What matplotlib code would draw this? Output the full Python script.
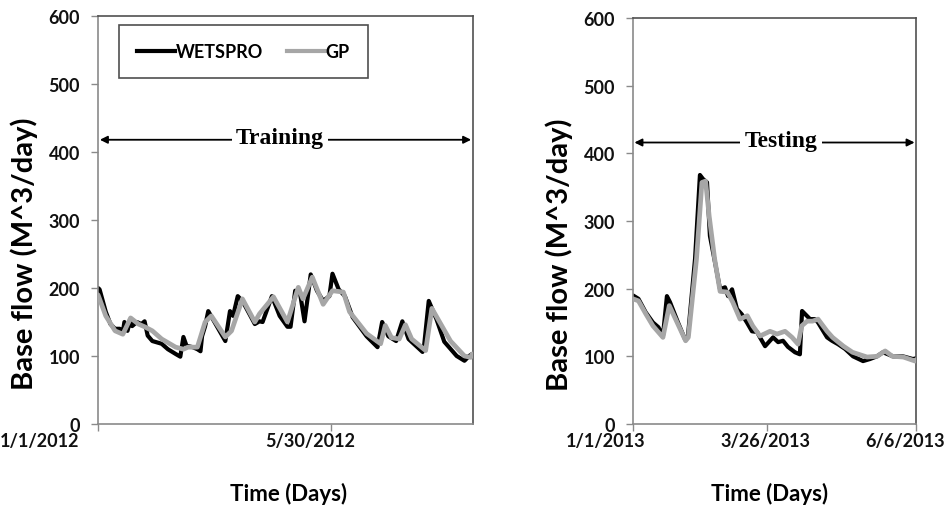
import matplotlib
matplotlib.use("Agg")
import matplotlib.pyplot as plt
import matplotlib.transforms as mtransforms
from matplotlib.lines import Line2D

# ---------------- data ----------------
# Training period (days since 1/1/2012)
train_days_wetspro = [0, 1, 5, 8, 11, 14, 16, 17, 19, 21, 22, 25, 28, 30, 32, 35, 41, 45, 50, 53, 55, 57,
                      61, 64, 66, 67, 69, 71, 74, 82, 85, 87, 90, 93, 101, 104, 106, 112, 117, 122, 124,
                      127, 130, 133, 137, 141, 145, 149, 151, 155, 159, 164, 173, 180, 183, 187, 192,
                      196, 200, 209, 210, 213, 218, 223, 231, 236, 239, 241]
train_wetspro = [200, 198, 165, 147, 140, 140, 135, 150, 137, 154, 144, 150, 147, 151, 130, 122, 118, 110,
                 103, 99, 128, 115, 113, 110, 107, 129, 144, 166, 154, 122, 166, 159, 188, 181, 147, 151,
                 150, 188, 159, 143, 143, 196, 194, 151, 220, 196, 181, 188, 221, 198, 188, 157, 129, 113,
                 150, 129, 122, 151, 125, 106, 115, 181, 154, 121, 100, 93, 100, 103]

train_days_gp = [0, 1, 5, 11, 16, 21, 26, 30, 35, 41, 50, 55, 58, 64, 69, 73, 82, 86, 93, 101, 104, 113,
                 122, 129, 132, 138, 145, 151, 158, 162, 173, 182, 185, 189, 194, 198, 202, 211, 215,
                 220, 227, 236, 240, 241]
train_gp = [190, 184, 159, 137, 132, 156, 147, 143, 137, 125, 113, 110, 113, 113, 150, 159, 128, 137, 184,
            150, 162, 187, 150, 201, 184, 216, 176, 196, 194, 165, 133, 118, 145, 127, 125, 146, 125,
            108, 170, 150, 122, 100, 98, 103]

# Testing period (days since 1/1/2013)
test_days_wetspro = [0, 3, 7, 11, 14, 16.5, 18.7, 20.4, 24.8, 28.7, 30.3, 34.2, 36.9, 38.6, 40.8, 42.4,
                     45.2, 48, 50.7, 52.4, 54.6, 57.3, 60, 62.8, 65.6, 68.4, 70, 72.8, 77.2, 80, 82.7,
                     85.4, 89.3, 92, 93.2, 97.6, 100.3, 102, 107, 109.7, 113, 116.9, 121.3, 126.8,
                     130.6, 134.5, 137.8, 143.3, 148.8, 154.3, 156]
test_wetspro = [190, 185, 165, 150, 143, 130, 189, 180, 150, 125, 130, 244, 368, 362, 357, 278, 239, 199,
                202, 189, 199, 170, 162, 150, 137, 136, 128, 115, 128, 121, 123, 114, 106, 103, 167, 155,
                155, 150, 128, 123, 118, 111, 100, 93, 96, 100, 106, 100, 100, 96, 97]

test_days_gp = [0, 3, 7, 11, 16.5, 20, 29, 30.5, 35, 38, 40, 42, 45, 48, 52, 55, 59, 63, 66, 70, 75.5,
                79.4, 83.8, 87.7, 91, 93, 96, 99, 102, 107, 110, 116, 121, 129, 134.5, 139, 143, 149,
                155.5, 156]
test_gp = [185, 182, 163, 145, 128, 175, 123, 128, 244, 357, 359, 307, 244, 196, 195, 180, 155, 160, 145,
           130, 137, 133, 137, 128, 118, 145, 152, 152, 155, 137, 128, 115, 106, 99, 100, 108, 100, 99,
           93, 95]

y_ticks = [0, 100, 200, 300, 400, 500, 600]
train_ticks = [0, 150]
train_tick_labels = ["1/1/2012", "5/30/2012"]
test_ticks = [0, 74, 156]
test_tick_labels = ["1/1/2013", "3/26/2013", "6/6/2013"]
series_names = ["WETSPRO", "GP"]
phase_names = ["Training", "Testing"]

# ---------------- layout ----------------
W, H = 950, 506
fig = plt.figure(figsize=(W / 100, H / 100), dpi=100)

def frac(x0, x1, ytop, ybot):
    return [x0 / W, 1 - ybot / H, (x1 - x0) / W, (ybot - ytop) / H]

ax1 = fig.add_axes(frac(98, 473, 17, 425))
ax2 = fig.add_axes(frac(633, 916, 19, 425))

tick_font = dict(family="Lato", weight="bold", size=13)
ylab_font = dict(family="Lato", weight="bold", size=21)
xlab_font = dict(family="Lato", weight="bold", size=16)

C_BLACK = "#000000"
C_GRAY = "#a6a6a6"

def style(ax, xmax, xticks, xlabels, xoffsets_px, ylab_x, xlab_x):
    ax.set_xlim(0, xmax)
    ax.set_ylim(0, 600)
    ax.set_yticks(y_ticks)
    ax.set_yticklabels([str(v) for v in y_ticks], fontdict=tick_font)
    ax.set_xticks(xticks)
    ax.set_xticklabels([])
    # tick labels placed under their ticks, shifted as in the reference
    for xv, lab, dx in zip(xticks, xlabels, xoffsets_px):
        ax.annotate(lab, xy=(xv, 0), xycoords=("data", "axes fraction"),
                    xytext=(dx * 0.72, -6), textcoords="offset points",
                    ha="center", va="top", annotation_clip=False,
                    **tick_font, color="#111111")
    for s in ["left", "bottom"]:
        ax.spines[s].set_color("#8a8a8a")
        ax.spines[s].set_linewidth(1.2)
    for s in ["top", "right"]:
        ax.spines[s].set_color("#505050")
        ax.spines[s].set_linewidth(1.2)
    ax.tick_params(axis="y", direction="out", length=5, color="#8a8a8a", width=1,
                   pad=8, labelcolor="#111111")
    ax.tick_params(axis="x", direction="out", length=5, color="#8a8a8a", width=1)
    ax.set_ylabel("Base flow (M^3/day)", fontdict=ylab_font)
    ax.yaxis.set_label_coords(ylab_x, 0.42)
    ax.set_xlabel("Time (Days)", fontdict=xlab_font)
    ax.xaxis.set_label_coords(xlab_x, -0.142)
    ax.xaxis.label.set_va("top")

# Left: training
ax1.plot(train_days_gp, train_gp, color=C_GRAY, lw=3.4, solid_joinstyle="round",
         solid_capstyle="round", zorder=3)
ax1.plot(train_days_wetspro, train_wetspro, color=C_BLACK, lw=3.0, solid_joinstyle="round",
         solid_capstyle="round", zorder=2)
style(ax1, 241.5, train_ticks, train_tick_labels, [-58, -21], -0.16, 0.507)

# Right: testing
ax2.plot(test_days_gp, test_gp, color=C_GRAY, lw=3.4, solid_joinstyle="round",
         solid_capstyle="round", zorder=3)
ax2.plot(test_days_wetspro, test_wetspro, color=C_BLACK, lw=3.0, solid_joinstyle="round",
         solid_capstyle="round", zorder=2)
style(ax2, 156, test_ticks, test_tick_labels, [-27, -2, -11], -0.212, 0.484)

# Phase arrows
phase_font = dict(family="Liberation Serif", weight="bold", size=17)
for ax, name, yv, xc in [(ax1, phase_names[0], 418, 0.485), (ax2, phase_names[1], 416, 0.523)]:
    ax.annotate("", xy=(0.995, yv), xytext=(0.005, yv),
                xycoords=("axes fraction", "data"), textcoords=("axes fraction", "data"),
                arrowprops=dict(arrowstyle="<|-|>", color="black", lw=1.3,
                                mutation_scale=11, shrinkA=0, shrinkB=0), zorder=4)
    ax.text(xc, yv + 3, name,
            transform=mtransforms.blended_transform_factory(ax.transAxes, ax.transData),
            ha="center", va="center", fontdict=phase_font,
            bbox=dict(facecolor="white", edgecolor="none", pad=3), zorder=5)

# Legend
handles = [Line2D([0], [0], color=C_BLACK, lw=3), Line2D([0], [0], color=C_GRAY, lw=3)]
leg = ax1.legend(handles, series_names, loc="upper left", bbox_to_anchor=(0.056, 0.978),
                 ncol=2, frameon=True, fancybox=False, handlelength=2.1, handletextpad=0.05,
                 columnspacing=1.3, borderpad=1.0, borderaxespad=0,
                 prop=dict(family="Lato", weight="bold", size=13))
leg.get_frame().set_edgecolor("#222222")
leg.get_frame().set_linewidth(1.2)
leg.set_zorder(6)

fig.savefig("out.png", dpi=100, facecolor="white")
